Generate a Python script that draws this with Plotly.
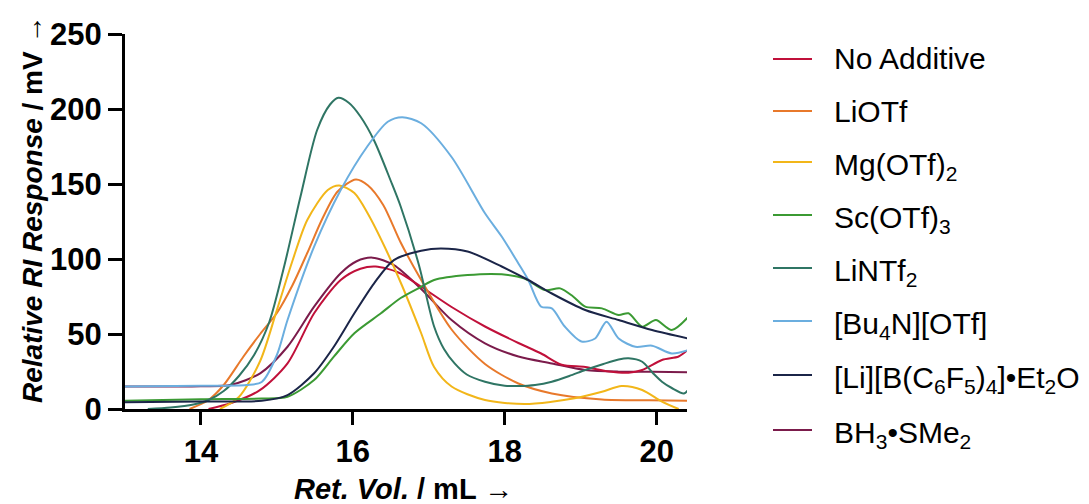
import plotly.graph_objects as go

# Retention volume (mL) and RI response (mV) for each additive
no_add_x = [14.1, 14.4, 14.78, 15.14, 15.49, 15.84, 16.1, 16.3, 16.6, 16.9, 17.3, 17.74, 18.18, 18.48, 18.75, 19.06, 19.37, 19.63, 19.81, 20.07, 20.29, 20.4]
no_add_y = [0, 4, 12.7, 30.4, 63.8, 86, 93.5, 95, 91, 81.5, 68, 55, 44, 37, 29.5, 28, 25, 24.2, 26, 32.7, 35, 39]

liotf_x = [13.85, 14.1, 14.3, 14.56, 14.78, 15.0, 15.2, 15.4, 15.6, 15.8, 16.04, 16.2, 16.4, 16.63, 16.9, 17.3, 17.74, 18.18, 18.62, 19.28, 19.9, 20.4]
liotf_y = [0, 6, 16, 35, 50, 64, 82, 104, 127, 145, 153, 149, 136, 111, 86, 53, 30, 17, 10.4, 6.4, 5.8, 5.5]

mg_x = [14.25, 14.5, 14.78, 15.0, 15.2, 15.4, 15.67, 15.82, 16.02, 16.2, 16.42, 16.65, 16.9, 17.07, 17.3, 17.74, 18.26, 18.62, 18.92, 19.28, 19.54, 19.81, 20.07, 20.29]
mg_y = [0, 8, 32, 66, 98, 126, 146, 149, 144, 130, 108, 82, 50.5, 28, 15, 6, 3.3, 4.8, 7.1, 11.5, 15.3, 12.7, 4.9, 0]

sc_x = [13.0, 14.0, 14.8, 15.14, 15.49, 15.75, 16.02, 16.37, 16.63, 16.9, 17.07, 17.51, 17.96, 18.26, 18.53, 18.73, 18.9, 19.06, 19.28, 19.5, 19.63, 19.81, 19.99, 20.2, 20.42]
sc_y = [5.5, 6.5, 7, 8.2, 19.3, 34.9, 50.5, 63.8, 74, 81.5, 86, 89.3, 89.8, 87, 79.3, 80.4, 75, 68.2, 67.1, 62.7, 63.8, 54.9, 59.3, 52.7, 61.6]

lintf_x = [13.3, 13.6, 13.9, 14.1, 14.3, 14.5, 14.7, 14.9, 15.1, 15.31, 15.53, 15.7, 15.81, 15.95, 16.1, 16.28, 16.5, 16.63, 16.87, 17.07, 17.2, 17.34, 17.5, 17.74, 18.0, 18.18, 18.4, 18.62, 18.85, 19.06, 19.3, 19.5, 19.63, 19.81, 19.95, 20.07, 20.2, 20.36, 20.42]
lintf_y = [0, 1, 3, 6, 12, 22, 36, 58, 96, 141.5, 186, 203, 207.5, 204, 195, 179, 152, 135, 96, 55, 40, 30.4, 23, 18.2, 15.5, 15.3, 16, 18.2, 22, 26, 30, 33, 33.8, 31.5, 24, 18.2, 14, 10.4, 13]

bu4n_x = [13.0, 14.0, 14.6, 14.8, 15.0, 15.14, 15.49, 15.84, 16.19, 16.46, 16.65, 16.9, 17.3, 17.74, 17.96, 18.18, 18.31, 18.48, 18.62, 18.79, 19.01, 19.19, 19.34, 19.5, 19.72, 19.94, 20.2, 20.42]
bu4n_y = [15, 15.5, 16, 18, 36, 59.3, 108.2, 146, 175, 191.5, 194.5, 190.5, 168, 130.5, 115, 97, 86, 68.2, 67.1, 55, 45, 47, 58.2, 47, 41.5, 42.2, 37, 39.3]

libf_x = [13.0, 14.0, 14.8, 15.14, 15.49, 15.75, 16.02, 16.28, 16.54, 16.9, 17.16, 17.51, 17.96, 18.31, 18.62, 19.06, 19.5, 19.94, 20.42]
libf_y = [4.5, 5, 5.5, 9.3, 23.8, 41.5, 63.8, 83.8, 99.3, 105.5, 107, 105, 95, 86, 77, 66, 59.3, 52.7, 47]

bh3_x = [13.0, 14.0, 14.39, 14.78, 15.14, 15.49, 15.84, 16.05, 16.26, 16.54, 16.9, 17.3, 17.74, 18.18, 18.62, 19.06, 19.5, 19.94, 20.42]
bh3_y = [15, 15.2, 16, 23.8, 41.5, 68.2, 90.5, 98.5, 100.9, 95.9, 80, 59.3, 43.8, 35, 30.4, 26, 24.9, 24.9, 24.5]

series = [
    ("No Additive", no_add_x, no_add_y, "#C0103A"),
    ("LiOTf", liotf_x, liotf_y, "#E8792B"),
    ("Mg(OTf)<sub>2</sub>", mg_x, mg_y, "#F2B619"),
    ("Sc(OTf)<sub>3</sub>", sc_x, sc_y, "#3B9A33"),
    ("LiNTf<sub>2</sub>", lintf_x, lintf_y, "#2F7564"),
    ("[Bu<sub>4</sub>N][OTf]", bu4n_x, bu4n_y, "#6BAEDF"),
    ("[Li][B(C<sub>6</sub>F<sub>5</sub>)<sub>4</sub>]•Et<sub>2</sub>O", libf_x, libf_y, "#1B2548"),
    ("BH<sub>3</sub>•SMe<sub>2</sub>", bh3_x, bh3_y, "#7B1B4B"),
]

# drawing order: BH3·SMe2 first so the [Bu4N][OTf] baseline stays visible
draw_order = [7, 0, 1, 2, 3, 4, 5, 6]

fig = go.Figure()
for i in draw_order:
    name, xs, ys, color = series[i]
    fig.add_trace(go.Scatter(
        x=xs, y=ys, name=name, mode="lines", showlegend=False,
        line=dict(color=color, width=2, shape="spline", smoothing=0.8),
    ))

font_family = "Liberation Sans, Arial, sans-serif"

# plot area in pixels: x 125..687, y 34..409
PL, PR, PT, PB = 125, 687, 34, 409


def px_x(p):
    return (p - PL) / (PR - PL)


def px_y(p):
    return (PB - p) / (PB - PT)


# legend drawn as line samples plus labels to the right of the plot
legend_rows = [59, 111, 162, 215, 268, 321, 375, 430]
for (name, _, _, color), row in zip(series, legend_rows):
    fig.add_shape(type="line", xref="paper", yref="paper",
                  x0=px_x(773), x1=px_x(812), y0=px_y(row), y1=px_y(row),
                  line=dict(color=color, width=2))
    has_sub = "<sub>" in name
    fig.add_annotation(xref="paper", yref="paper", x=px_x(832), y=px_y(row),
                       xanchor="left", yanchor="middle", showarrow=False,
                       text=name, yshift=-4 if has_sub else 0,
                       font=dict(size=30, family=font_family, color="black"))

# axis titles
fig.add_annotation(xref="paper", yref="paper", x=px_x(403), y=px_y(489),
                   xanchor="center", yanchor="middle", showarrow=False,
                   text="<b><i>Ret. Vol.</i> / mL →</b>",
                   font=dict(size=29, family=font_family, color="black"))
fig.add_annotation(xref="paper", yref="paper", x=px_x(32), y=px_y(210),
                   xanchor="center", yanchor="middle", showarrow=False, textangle=-90,
                   text="<b><i>Relative RI Response</i> / mV →</b>",
                   font=dict(size=28, family=font_family, color="black"))

fig.update_layout(
    width=1089, height=504,
    margin=dict(l=PL, r=1089 - PR, t=PT, b=504 - PB),
    paper_bgcolor="white", plot_bgcolor="white",
    font=dict(family=font_family, color="black"),
    showlegend=False,
    xaxis=dict(
        range=[13, 20.4], tickvals=[14, 16, 18, 20], automargin=False,
        showline=True, linecolor="black", linewidth=3,
        ticks="outside", ticklen=13, tickwidth=3, tickcolor="black",
        showgrid=False, zeroline=False,
        tickfont=dict(size=31, weight="bold", family=font_family),
    ),
    yaxis=dict(
        range=[0, 250], tickvals=[0, 50, 100, 150, 200, 250], automargin=False,
        showline=True, linecolor="black", linewidth=3,
        ticks="outside", ticklen=14, tickwidth=3, tickcolor="black",
        showgrid=False, zeroline=False,
        tickfont=dict(size=31, weight="bold", family=font_family),
    ),
)

fig.write_html("out.html")
